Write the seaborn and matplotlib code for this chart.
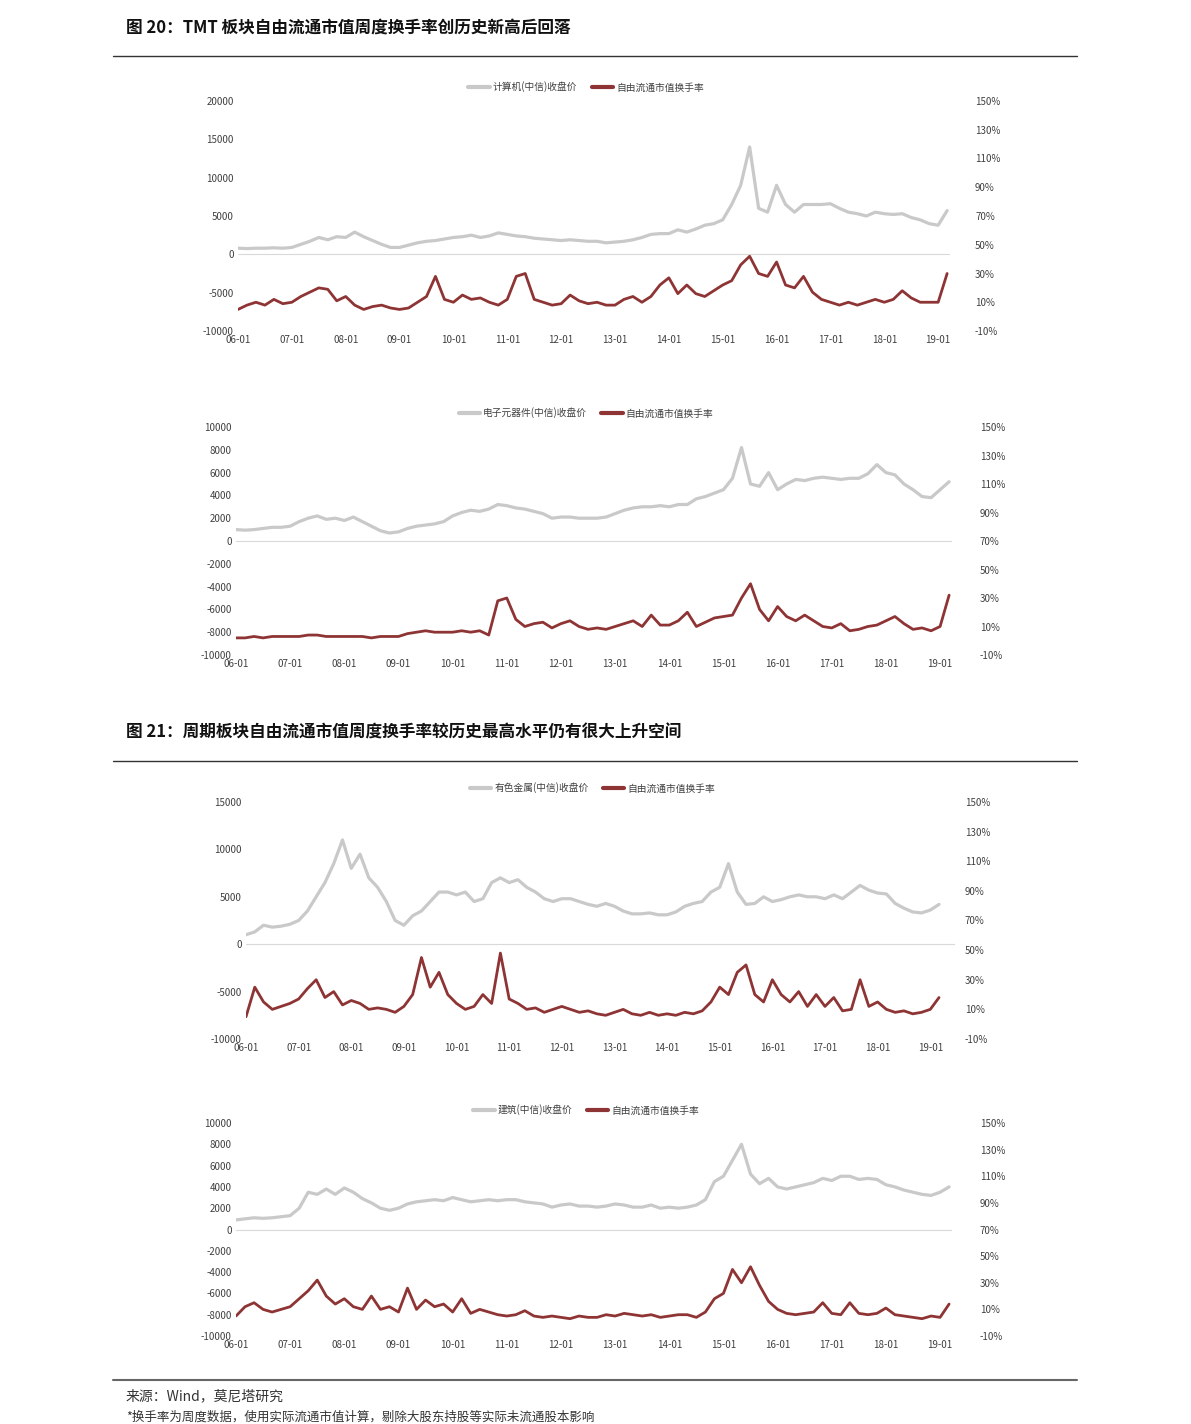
import numpy as np
import pandas as pd
import matplotlib
matplotlib.use("Agg")
import matplotlib.pyplot as plt
import seaborn as sns
from matplotlib.lines import Line2D

sns.set_theme(style="white")
plt.rcParams['font.family'] = ['Noto Sans CJK SC', 'DejaVu Sans']

x_labels = ["06-01","07-01","08-01","09-01","10-01","11-01","12-01","13-01","14-01","15-01","16-01","17-01","18-01","19-01"]

price_computer = [800,750,800,800,850,800, 900,1300,1700,2200,1900,2300, 2200,2900,2300,1800,1300,900,
  900,1200,1500,1700,1800,2000, 2200,2300,2500,2200,2400,2800, 2600,2400,2300,2100,2000,1900,
  1800,1900,1800,1700,1700,1500, 1600,1700,1900,2200,2600,2700, 2700,3200,2900,3300,3800,4000,
  4500,6500,9000,14000,6000,5500, 9000,6500,5500,6500,6500,6500, 6600,6000,5500,5300,5000,5500,
  5300,5200,5300,4800,4500,4000, 3800,5700]
turn_computer = [5,8,10,8,12,9, 10,14,17,20,19,11, 14,8,5,7,8,6, 5,6,10,14,28,12, 10,15,12,13,10,8,
  12,28,30,12,10,8, 9,15,11,9,10,8, 8,12,14,10,14,22, 27,16,22,16,14,18, 22,25,36,42,30,28,
  38,22,20,28,17,12, 10,8,10,8,10,12, 10,12,18,13,10,10, 10,30]

price_elec = [1000,950,1000,1100,1200,1200, 1300,1700,2000,2200,1900,2000, 1800,2100,1700,1300,900,700,
  800,1100,1300,1400,1500,1700, 2200,2500,2700,2600,2800,3200, 3100,2900,2800,2600,2400,2000,
  2100,2100,2000,2000,2000,2100, 2400,2700,2900,3000,3000,3100, 3000,3200,3200,3700,3900,4200,
  4500,5500,8200,5000,4800,6000, 4500,5000,5400,5300,5500,5600, 5500,5400,5500,5500,5900,6700,
  6000,5800,5000,4500,3900,3800, 4500,5200]
turn_elec = [2,2,3,2,3,3, 3,3,4,4,3,3, 3,3,3,2,3,3, 3,5,6,7,6,6, 6,7,6,7,4,28, 30,15,10,12,13,9,
  12,14,10,8,9,8, 10,12,14,10,18,11, 11,14,20,10,13,16, 17,18,30,40,22,14, 24,17,14,18,14,10,
  9,12,7,8,10,11, 14,17,12,8,9,7, 10,32]

price_metal = [1000,1300,2000,1800,1900,2100, 2500,3500,5000,6500,8500,11000, 8000,9500,7000,6000,4500,2500,
  2000,3000,3500,4500,5500,5500, 5200,5500,4500,4800,6500,7000, 6500,6800,6000,5500,4800,4500,
  4800,4800,4500,4200,4000,4300, 4000,3500,3200,3200,3300,3100, 3100,3400,4000,4300,4500,5500,
  6000,8500,5500,4200,4300,5000, 4500,4700,5000,5200,5000,5000, 4800,5200,4800,5500,6200,5700,
  5400,5300,4300,3800,3400,3300, 3600,4200]
turn_metal = [5,25,15,10,12,14, 17,24,30,18,22,13, 16,14,10,11,10,8, 12,20,45,25,35,20, 14,10,12,20,14,48,
  17,14,10,11,8,10, 12,10,8,9,7,6, 8,10,7,6,8,6, 7,6,8,7,9,15, 25,20,35,40,20,15,
  30,20,15,22,12,20, 12,18,9,10,30,12, 15,10,8,9,7,8, 10,18]

price_build = [900,1000,1100,1050,1100,1200, 1300,2000,3500,3300,3800,3300, 3900,3500,2900,2500,2000,1800,
  2000,2400,2600,2700,2800,2700, 3000,2800,2600,2700,2800,2700, 2800,2800,2600,2500,2400,2100,
  2300,2400,2200,2200,2100,2200, 2400,2300,2100,2100,2300,2000, 2100,2000,2100,2300,2800,4500,
  5000,6500,8000,5200,4300,4800, 4000,3800,4000,4200,4400,4800, 4600,5000,5000,4700,4800,4700,
  4200,4000,3700,3500,3300,3200, 3500,4000]
turn_build = [5,12,15,10,8,10, 12,18,24,32,20,14, 18,12,10,20,10,12, 8,26,10,17,12,14, 8,18,7,10,8,6,
  5,6,9,5,4,5, 4,3,5,4,4,6, 5,7,6,5,6,4, 5,6,6,4,8,18, 22,40,30,42,28,16,
  10,7,6,7,8,15, 7,6,15,7,6,7, 11,6,5,4,3,5, 4,14]

n = len(price_computer)
t = 2006 + np.arange(n) / 6.0

W, H = 1191, 1424
fig = plt.figure(figsize=(W/100, H/100), dpi=100)

def ax_at(x0, y0, x1, y1):
    return fig.add_axes([x0/W, 1-y1/H, (x1-x0)/W, (y1-y0)/H])

GRAY = "#c9c9c9"
RED = "#8e3434"
TXT = "#404040"

panels = [
    (238, 101, 950, 331, 2019.22, (-10000, 20000), [-10000,-5000,0,5000,10000,15000,20000],
     price_computer, turn_computer, "计算机(中信)收盘价", 87, 18),
    (236, 427, 952, 655, 2019.22, (-10000, 10000), list(range(-10000, 10001, 2000)),
     price_elec, turn_elec, "电子元器件(中信)收盘价", 413, 20),
    (246, 802, 955, 1039, 2019.47, (-10000, 15000), [-10000,-5000,0,5000,10000,15000],
     price_metal, turn_metal, "有色金属(中信)收盘价", 788, 7),
    (236, 1123, 952, 1336, 2019.22, (-10000, 10000), list(range(-10000, 10001, 2000)),
     price_build, turn_build, "建筑(中信)收盘价", 1110, 20),
]

for (x0, y0, x1, y1, xend, ylim, yt, pr, tu, name, ly, rpad) in panels:
    ax = ax_at(x0, y0, x1, y1)
    ax2 = ax.twinx()
    sns.lineplot(x=t, y=pr, ax=ax, color=GRAY, lw=2.3)
    sns.lineplot(x=t, y=tu, ax=ax2, color=RED, lw=2.0)
    ax.set_xlim(2006, xend)
    ax.set_ylim(*ylim)
    ax2.set_ylim(-10, 150)
    ax.set_yticks(yt)
    ax.set_yticklabels([str(v) for v in yt], fontsize=7, color=TXT)
    rt = list(range(-10, 151, 20))
    ax2.set_yticks(rt)
    ax2.set_yticklabels([f"{v}%" for v in rt], fontsize=7, color=TXT)
    ax.set_xticks(np.arange(2006, 2020))
    ax.set_xticklabels(x_labels, fontsize=7, color=TXT)
    ax.axhline(0, color="#d9d9d9", lw=0.8, zorder=0)
    for a in (ax, ax2):
        for s in a.spines.values():
            s.set_visible(False)
        a.tick_params(length=0, pad=3)
        a.set_xlabel(""); a.set_ylabel("")
    ax2.tick_params(axis="y", pad=rpad)
    handles = [Line2D([0], [0], color=GRAY, lw=3), Line2D([0], [0], color=RED, lw=3)]
    fig.legend(handles, [name, "自由流通市值换手率"], loc="center",
               bbox_to_anchor=(((x0+x1)/2 - 8)/W, 1-ly/H), ncol=2, frameon=False,
               fontsize=7, handlelength=2.2, columnspacing=1.5, handletextpad=0.3,
               labelcolor=TXT)

fig.text(126/W, 1-28/H, "图 20：TMT 板块自由流通市值周度换手率创历史新高后回落",
         fontsize=12, fontweight="bold", va="center", color="#111111")
fig.text(126/W, 1-733/H, "图 21：周期板块自由流通市值周度换手率较历史最高水平仍有很大上升空间",
         fontsize=12, fontweight="bold", va="center", color="#111111")
for yy in (56, 761):
    fig.add_artist(Line2D([113/W, 1077/W], [1-yy/H, 1-yy/H], color="#333333", lw=1))
fig.add_artist(Line2D([113/W, 1077/W], [1-1380/H, 1-1380/H], color="#666666", lw=1.5))
fig.text(126/W, 1-1396/H, "来源：Wind，莫尼塔研究", fontsize=10, style="italic",
         va="center", color="#333333")
fig.text(126/W, 1-1424/H, "*换手率为周度数据，使用实际流通市值计算，剔除大股东持股等实际未流通股本影响",
         fontsize=9, style="italic", va="bottom", color="#333333")

fig.savefig("out.png", dpi=100)
